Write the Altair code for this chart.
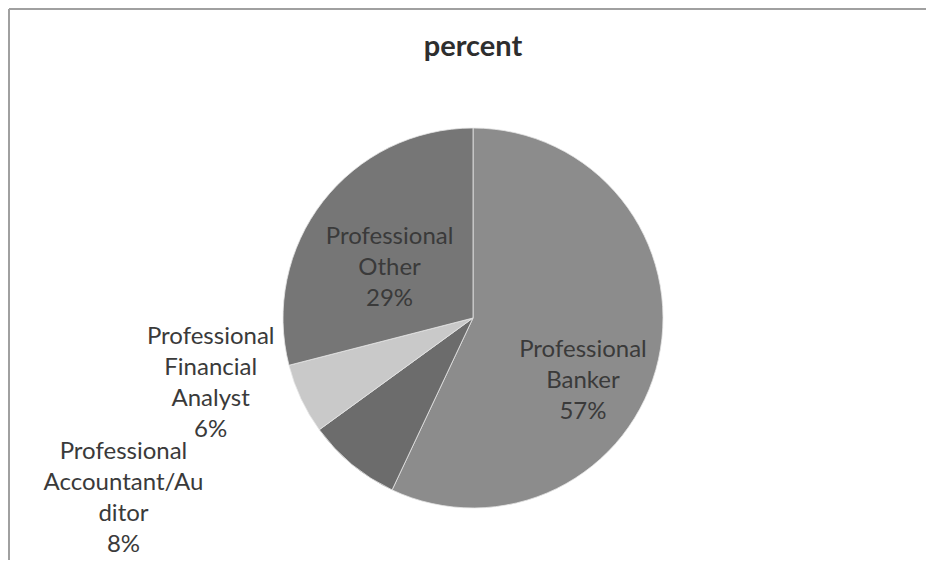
import altair as alt
import pandas as pd

names = ["Professional Banker", "Professional Accountant/Auditor",
         "Professional Financial Analyst", "Professional Other"]
label_lines = ["Professional\nBanker", "Professional\nAccountant/Au\nditor",
               "Professional\nFinancial\nAnalyst", "Professional\nOther"]
values = [57, 8, 6, 29]
colors = ["#8c8c8c", "#6c6c6c", "#c9c9c9", "#767676"]

df = pd.DataFrame({
    "name": names,
    "lines": label_lines,
    "value": values,
    "idx": list(range(len(names))),
})

theta_scale = alt.Scale(domain=[0, 100])
FONT = "Lato"
TXT = "#3a3a3a"

base = alt.Chart(df).transform_window(
    cum="sum(value)", sort=[{"field": "idx"}]
).transform_calculate(
    mid="datum.cum - datum.value / 2",
    label="datum.lines + '\\n' + datum.value + '%'",
)

arcs = alt.Chart(df).mark_arc(outerRadius=190, stroke="#e6e6e6", strokeWidth=0.8).encode(
    theta=alt.Theta("value:Q", stack=True, scale=theta_scale),
    order=alt.Order("idx:Q"),
    color=alt.Color("name:N", scale=alt.Scale(domain=names, range=colors), legend=None),
)


def label_layer(name, radius, dx, dy):
    return base.transform_filter(alt.datum.name == name).mark_text(
        radius=radius, dx=dx, dy=dy, font=FONT, fontSize=24, color=TXT,
        lineBreak="\n", lineHeight=31, align="center", baseline="middle",
    ).encode(
        theta=alt.Theta("mid:Q", stack=None, scale=theta_scale),
        text="label:N",
    )


labels = [
    label_layer(names[0], 126, -13, 5),
    label_layer(names[1], 233, -201, -46),
    label_layer(names[2], 270, -18, -96),
    label_layer(names[3], 98, -6, -21),
]

frame_left = alt.Chart(df).mark_rule(color="#a0a0a0", strokeWidth=2).encode(
    x=alt.value(-264), y=alt.value(-109), y2=alt.value(460)
)
frame_top = alt.Chart(df).mark_rule(color="#a0a0a0", strokeWidth=2).encode(
    x=alt.value(-264), x2=alt.value(680), y=alt.value(-109)
)

chart = alt.layer(frame_left, frame_top, arcs, *labels).properties(
    width=400,
    height=400,
    padding={"left": 265, "top": 110, "right": 253, "bottom": 42},
    autosize=alt.AutoSizeParams(type="none"),
    background="white",
    title=alt.TitleParams("percent", font=FONT, fontSize=29, fontWeight="bold",
                          color="#2e2e2e", offset=-77, anchor="middle",
                          frame="group", baseline="alphabetic"),
).configure_view(stroke=None)

chart.save("out.html", embed_options={"renderer": "svg", "actions": False})
